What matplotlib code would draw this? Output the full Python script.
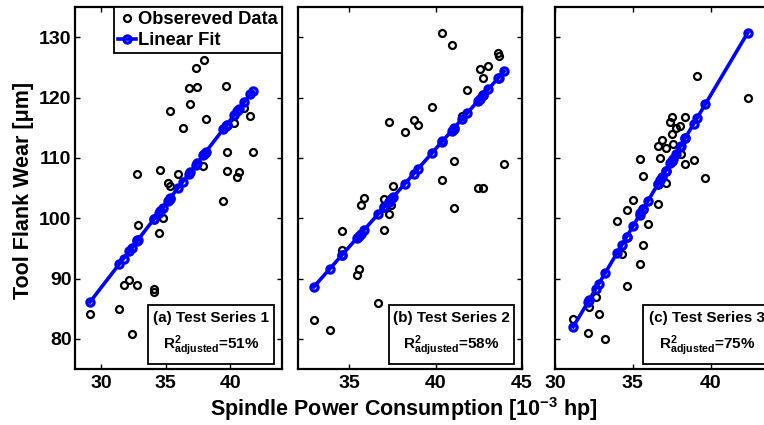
import numpy as np
import matplotlib
matplotlib.use("Agg")
import matplotlib.pyplot as plt
from matplotlib.patches import Rectangle

plt.rcParams['font.family'] = ['Liberation Sans', 'DejaVu Sans']
plt.rcParams['font.weight'] = 'bold'
plt.rcParams['mathtext.fontset'] = 'custom'
plt.rcParams['mathtext.rm'] = 'Liberation Sans:bold'
plt.rcParams['mathtext.bf'] = 'Liberation Sans:bold'
plt.rcParams['mathtext.it'] = 'Liberation Sans:bold'

obs1_x = [29.16, 31.43, 31.75, 32.2, 32.37, 32.78, 32.83, 32.86, 34.1, 34.1, 34.49, 34.59,
          34.77, 35.16, 35.31, 35.36, 35.98, 36.32, 36.81, 36.89, 37.33, 37.43, 37.92, 38.0,
          38.1, 39.47, 39.68, 39.73, 39.73, 40.3, 40.56, 40.64, 41.1, 41.54, 41.72]
obs1_y = [84.1, 85.0, 88.9, 89.7, 80.8, 89.0, 107.25, 98.8, 88.3, 87.8, 97.5, 108.0,
          100.0, 105.9, 105.3, 117.7, 107.35, 114.9, 121.6, 118.9, 124.85, 121.7, 108.7, 126.2,
          116.5, 102.9, 121.9, 110.9, 107.8, 115.8, 106.9, 107.7, 118.3, 117.0, 111.0]

obs2_x = [32.94, 33.87, 34.58, 34.58, 35.43, 35.54, 35.64, 35.85, 36.66, 37.0, 37.0, 37.3,
          37.3, 37.43, 37.55, 38.22, 38.72, 38.99, 39.8, 40.34, 40.38, 40.92, 41.03, 41.07,
          41.51, 41.83, 42.44, 42.56, 42.73, 42.73, 43.04, 43.6, 43.64, 43.96]
obs2_y = [83.1, 81.5, 97.8, 94.8, 90.6, 91.5, 102.1, 103.4, 85.9, 103.1, 98.0, 115.9,
          100.7, 102.2, 105.3, 114.2, 116.3, 115.4, 118.4, 106.3, 130.7, 128.7, 109.5, 101.7,
          116.9, 121.3, 104.95, 124.8, 123.2, 104.95, 125.3, 127.4, 126.8, 108.95]

obs3_x = [31.17, 32.1, 32.2, 32.63, 32.8, 33.22, 34.0, 34.28, 34.6, 34.6, 35.02, 35.45,
          35.49, 35.66, 35.66, 35.98, 36.6, 36.62, 36.77, 36.88, 37.12, 37.12, 37.41, 37.5,
          37.5, 37.58, 37.76, 38.03, 38.06, 38.38, 38.38, 38.91, 39.12, 39.66, 42.37]
obs3_y = [83.3, 81.0, 85.3, 87.0, 84.1, 80.0, 99.6, 94.0, 101.3, 88.7, 103.0, 92.45,
          109.8, 107.0, 95.5, 99.0, 111.9, 102.3, 109.9, 112.9, 111.6, 105.8, 115.9, 116.8,
          113.9, 112.35, 114.9, 115.25, 110.6, 116.7, 109.0, 109.6, 123.5, 106.7, 119.9]

# linear fit parameters
fit_slope = [2.78, 3.24, 4.35]
fit_intercept = [5.04, -18.1, -53.6]

series_names = ['(a) Test Series 1', '(b) Test Series 2', '(c) Test Series 3']
r2_adj = ['51%', '58%', '75%']
xlims = [(28, 44), (32, 45), (30, 44)]
xticks = [[30, 35, 40], [35, 40, 45], [30, 35, 40]]
yticks = [80, 90, 100, 110, 120, 130]

W, H = 764, 425
fig = plt.figure(figsize=(W / 100, H / 100), dpi=100)

# axes boxes in pixels: left, right
boxes = [(75, 282), (297.7, 522), (555, 773)]
top_px, bot_px = 7, 369
# annotation box x-range in axes fraction
ann_box = [(0.353, 0.961), (0.408, 0.965), (0.404, 0.99)]

data = [(obs1_x, obs1_y), (obs2_x, obs2_y), (obs3_x, obs3_y)]
axes = []
for i, (l, r) in enumerate(boxes):
    ax = fig.add_axes([l / W, 1 - bot_px / H, (r - l) / W, (bot_px - top_px) / H])
    axes.append(ax)
    x = np.array(data[i][0])
    y = np.array(data[i][1])
    obs, = ax.plot(x, y, 'o', mfc='none', mec='black', ms=5, mew=1.6, ls='none',
                   label='Obsereved Data')
    xs = np.sort(x)
    fit, = ax.plot(xs, fit_slope[i] * xs + fit_intercept[i], '-o', color=(0, 0, 1),
                   lw=2.6, ms=5.2, mfc='none', mec=(0, 0, 1), mew=2.3, label='Linear Fit')
    ax.set_xlim(*xlims[i])
    ax.set_ylim(75, 135)
    ax.set_xticks(xticks[i])
    ax.set_yticks(yticks)
    ax.tick_params(direction='in', length=3.5, width=1, top=True, right=True,
                   labelsize=14, pad=4)
    ax.tick_params(axis='y', pad=2.5)
    if i > 0:
        ax.set_yticklabels([])
    for s in ax.spines.values():
        s.set_linewidth(1.6)
    if i == 2:
        ax.spines['right'].set_visible(False)

    x0, x1 = ann_box[i]
    rect = Rectangle((x0, 0.014), x1 - x0, 0.163, transform=ax.transAxes,
                     facecolor='white', edgecolor='black', lw=1.3, clip_on=False, zorder=5)
    ax.add_patch(rect)
    cx = (x0 + x1) / 2
    ax.text(cx, 0.141, series_names[i], transform=ax.transAxes, ha='center', va='center',
            fontsize=11, fontweight='bold', zorder=6, clip_on=False)
    ax.text(cx, 0.063, r'$\mathrm{R}^{2}_{\mathrm{adjusted}}$=' + r2_adj[i],
            transform=ax.transAxes, ha='center', va='center', fontsize=11,
            fontweight='bold', zorder=6, clip_on=False)

    if i == 0:
        leg = ax.legend(handles=[obs, fit], loc='upper right', bbox_to_anchor=(1.0, 1.0),
                        borderaxespad=0, handlelength=1.0, handletextpad=0.12,
                        borderpad=0.22, labelspacing=0.22, fancybox=False, framealpha=1,
                        edgecolor='black', prop={'weight': 'bold', 'size': 13.2})
        leg.get_frame().set_linewidth(1.3)

fig.text(404 / W, 1 - 409 / H, r'Spindle Power Consumption [10$^{-3}$ hp]',
         ha='center', va='center', fontsize=15.5, fontweight='bold')
fig.text(24 / W, 1 - 190 / H, 'Tool Flank Wear [\u03bcm]', rotation=90,
         ha='center', va='center', fontsize=15.5, fontweight='bold')

fig.savefig('out.png', dpi=100)
